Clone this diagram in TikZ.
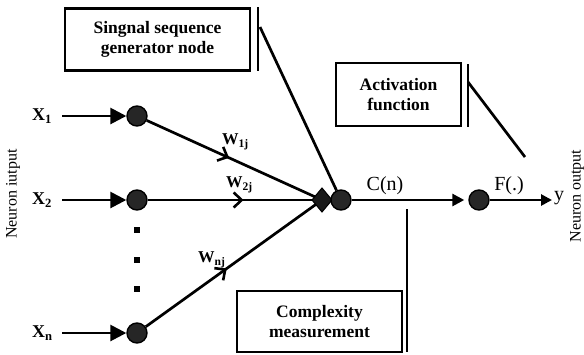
\documentclass[tikz,border=0pt]{standalone}
\usepackage{fontspec}
\setmainfont{Liberation Serif}
\usetikzlibrary{arrows.meta,shapes.geometric,decorations.markings}
\pgfdeclarelayer{wires}
\pgfsetlayers{wires,main}

\begin{document}
\begin{tikzpicture}[x=1pt,y=-1pt,
  wire/.style={line width=2.7pt},
  neuron/.style={circle,draw=black,fill=black!85,line width=1.4pt,minimum size=20pt,inner sep=0pt},
  infobox/.style={draw,line width=2.7pt,inner sep=0pt,align=center,
    font=\fontsize{17.5}{20.5}\selectfont\bfseries},
  inlabel/.style={font=\fontsize{18}{18}\selectfont\bfseries,inner sep=0pt},
  wlabel/.style={font=\fontsize{16.5}{16.5}\selectfont\bfseries,inner sep=0pt,anchor=west},
  sig/.style={font=\fontsize{20}{20}\selectfont,inner sep=0pt},
  side/.style={font=\fontsize{16}{16}\selectfont,inner sep=0pt,rotate=90},
  dotsq/.style={rectangle,fill=black,minimum size=6.5pt,inner sep=0pt},
  junction/.style={diamond,draw=black,fill=black!90,line width=1pt,
    minimum width=20pt,minimum height=24pt,inner sep=0pt,outer sep=0pt},
  feed/.style={wire,-{Triangle[length=16pt,width=16pt]}},
  weighted/.style={wire,postaction={decorate},decoration={markings,
    mark=at position #1 with {\arrow{Straight Barb[length=8pt,width=15pt,line width=2.6pt]}}}}
]
\useasboundingbox (0,0) rectangle (584,354);

% annotation boxes with their side bars
\node[infobox,minimum width=185pt,minimum height=62pt] (gen) at (157.5,39.5)
  {Singnal sequence\\generator node};
\draw[wire] (258,7) -- (258,71);
\node[infobox,minimum width=125pt,minimum height=63pt] (actbox) at (398.5,94.5)
  {Activation\\function};
\draw[wire] (468,64) -- (468,127);
\node[infobox,minimum width=165pt,minimum height=61pt] (cmx) at (319.5,321.5)
  {Complexity\\measurement};
\draw[wire] (407,209) -- (407,352);

% input neurons
\node[neuron] (n1) at (137,116) {};
\node[neuron] (n2) at (137,200) {};
\node[neuron] (nn) at (137,333) {};
\node[dotsq] (d1) at (137,230) {};
\node[dotsq] (d2) at (137,260) {};
\node[dotsq] (d3) at (137,289) {};

\node[inlabel,anchor=west] (x1) at (32,116) {X\textsubscript{1}};
\node[inlabel,anchor=west] (x2) at (32,200) {X\textsubscript{2}};
\node[inlabel,anchor=west] (xn) at (32,333) {X\textsubscript{n}};
\coordinate (s1) at (62,116);
\coordinate (s2) at (62,200);
\coordinate (sn) at (62,333);
\draw[feed] (s1) -- (n1);
\draw[feed] (s2) -- (n2);
\draw[feed] (sn) -- (nn);

% summing junction and generator node
\node[junction] (dia) at (322,200) {};
\node[neuron] (hub) at (341,200) {};

% weighted inputs run underneath the junction
\begin{pgfonlayer}{wires}
\draw[weighted=0.47] (n1) -- (dia.center);
\draw[weighted=0.55] (n2) -- (dia.center);
\draw[weighted=0.46] (nn) -- (dia.center);
\end{pgfonlayer}
\node[wlabel] (w1) at (222,142) {W\textsubscript{1j}};
\node[wlabel] (w2) at (226,185) {W\textsubscript{2j}};
\node[wlabel] (wn) at (198,260) {W\textsubscript{nj}};

% generator node pointer
\coordinate (g1) at (260,27);
\draw[wire] (g1) -- (hub);

% activation stage
\node[neuron] (act) at (479,200) {};
\draw[wire,-{Triangle[length=12pt,width=12pt]},shorten >=4pt] (hub) -- (act);
\coordinate (yout) at (552,200);
\draw[wire,-{Triangle[length=11pt,width=11pt]}] (act) -- (yout);
\node[sig,anchor=west] (yl) at (554,198) {y};
\node[sig] (cn) at (385,186) {C(n)};
\node[sig] (fl) at (509,186) {F(.)};

\coordinate (a1) at (468,82);
\coordinate (a2) at (525,157);
\draw[wire] (a1) -- (a2);

% side captions
\node[side] (nin) at (13,194) {Neuron iutput};
\node[side] (nout) at (577,196) {Neuron output};
\end{tikzpicture}
\end{document}
